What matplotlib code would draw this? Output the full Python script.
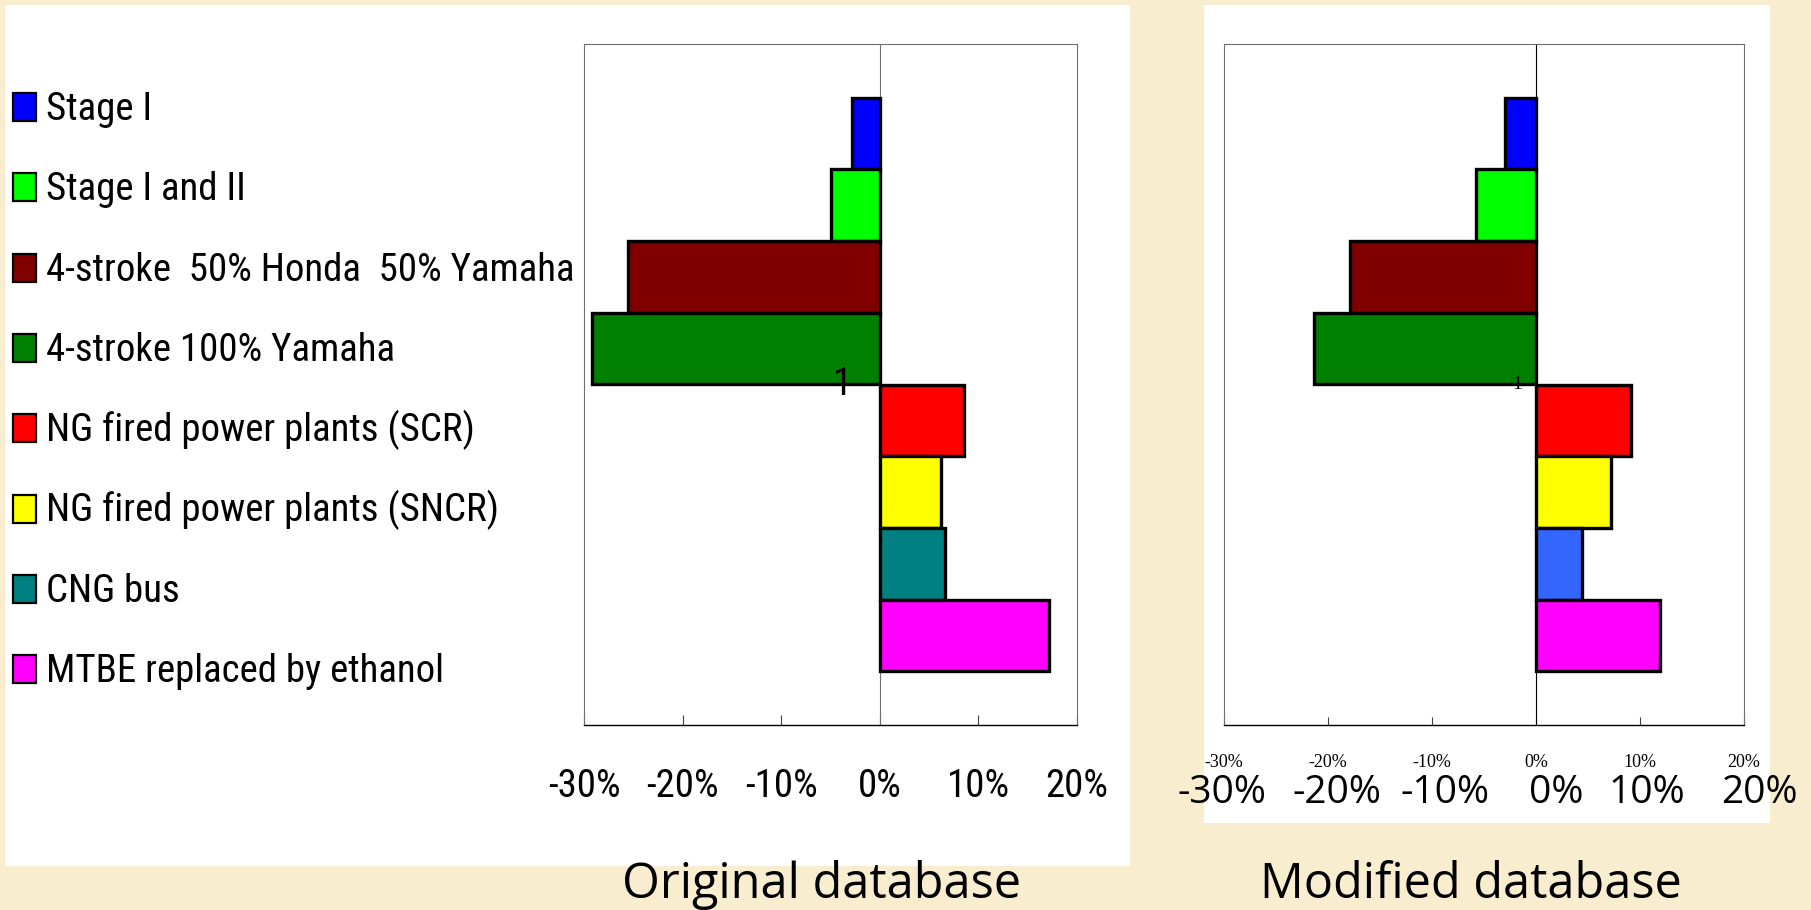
import matplotlib
matplotlib.use("Agg")
import matplotlib.pyplot as plt
from matplotlib import font_manager
from matplotlib.patches import Rectangle

W, H = 1811, 910

# scenarios, top to bottom
scenarios = ["Stage I", "Stage I and II", "4-stroke  50% Honda  50% Yamaha",
             "4-stroke 100% Yamaha", "NG fired power plants (SCR)",
             "NG fired power plants (SNCR)", "CNG bus", "MTBE replaced by ethanol"]
colors_orig = ["#0000FF", "#00FF00", "#800000", "#008000",
               "#FF0000", "#FFFF00", "#008080", "#FF00FF"]
colors_mod = ["#0000FF", "#00FF00", "#800000", "#008000",
              "#FF0000", "#FFFF00", "#3366FF", "#FF00FF"]

# change per scenario, %
original = [-2.8, -4.9, -25.5, -29.2, 8.5, 6.2, 6.6, 17.2]
modified = [-3.0, -5.8, -17.9, -21.3, 9.1, 7.2, 4.4, 11.9]

xticks = [-30, -20, -10, 0, 10, 20]
tick_labels = [f"{t}%" for t in xticks]
category = "1"
titles = ["Original database", "Modified database"]

SERIF = ["Liberation Serif", "DejaVu Serif"]
SLIDE = ["Open Sans", "Noto Sans", "DejaVu Sans"]


def narrow_font(size):
    # look for a condensed sans; fall back to a smaller regular one
    names = {f.name for f in font_manager.fontManager.ttflist}
    for n in ("Liberation Sans Narrow", "Arial Narrow", "Roboto Condensed",
              "Open Sans Condensed", "DejaVu Sans Condensed"):
        if n in names:
            return dict(fontfamily=n, fontsize=size)
    for f in font_manager.fontManager.ttflist:
        if f.name in ("DejaVu Sans", "Liberation Sans", "Noto Sans") and \
                str(f.stretch) in ("condensed", "semi-condensed") and f.style == "normal" \
                and f.weight in (400, "normal", "regular"):
            return dict(fontfamily=f.name, fontstretch=f.stretch, fontsize=size)
    return dict(fontfamily=["Liberation Sans", "DejaVu Sans"], fontsize=size * 0.8)


NARROW = narrow_font(28)


def fx(px):
    return px / W


def fy(py):
    return 1 - py / H


def box(x0, y0, x1, y1):
    return [fx(x0), fy(y1), (x1 - x0) / W, (y1 - y0) / H]


fig = plt.figure(figsize=(W / 100, H / 100), dpi=100)
fig.patch.set_facecolor("#F9EDD0")

# white chart backgrounds
for x0, y0, x1, y1 in [(5, 5, 1130, 866), (1204, 5, 1770, 823)]:
    fig.add_artist(Rectangle((fx(x0), fy(y1)), (x1 - x0) / W, (y1 - y0) / H,
                             transform=fig.transFigure, fc="white", ec="none", zorder=-5))


def panel(rect, values, colors, zero_color, label_kw, label_pad,
          cat_kw, cat_offset, tick_len):
    ax = fig.add_axes(box(*rect))
    n = len(values)
    pos = [i - (n - 1) / 2 for i in range(n)]
    ax.axvline(0, color=zero_color, lw=0.8, zorder=2)
    ax.barh(pos, values, height=1.0, color=colors, edgecolor="black",
            linewidth=2.4, zorder=3)
    ax.set_ylim(n / 2 + 0.75, -n / 2 - 0.75)
    ax.set_xlim(xticks[0], xticks[-1])
    ax.set_xticks(xticks)
    ax.set_xticklabels(tick_labels, **label_kw)
    ax.set_yticks([])
    ax.tick_params(axis="x", direction="in", length=tick_len, width=0.8,
                   color="#404040", pad=label_pad)
    for side in ["left", "top", "right"]:
        ax.spines[side].set_color("#707070")
        ax.spines[side].set_linewidth(0.8)
    ax.spines["bottom"].set_color("black")
    ax.spines["bottom"].set_linewidth(1.0)
    ax.annotate(category, xy=(0, 0), xytext=(cat_offset, 0), textcoords="offset points",
                ha="right", va="center", zorder=5, **cat_kw)
    return ax


panel((584, 44, 1077, 725), original, colors_orig, "#707070",
      NARROW, 31, NARROW, -20, 7.5)
panel((1224, 44, 1744, 725), modified, colors_mod, "black",
      dict(fontfamily=SERIF, fontsize=13), 21,
      dict(fontfamily=SERIF, fontsize=14), -10, 6)

# legend
for k, (name, c) in enumerate(zip(scenarios, colors_orig)):
    cy = 107 + k * 80.3
    fig.add_artist(Rectangle((fx(13), fy(cy + 14)), 23 / W, 28 / H, transform=fig.transFigure,
                             fc=c, ec="black", lw=1.6))
    fig.text(fx(46), fy(cy + 13), name, ha="left", va="baseline", **NARROW)

# larger axis labels laid over the second chart
for xc, lab in zip([1222, 1337, 1445, 1556, 1647, 1759], tick_labels):
    fig.text(fx(xc), fy(803), lab, fontfamily=SLIDE, fontsize=28,
             ha="center", va="baseline")

for xc, t in zip([822, 1471], titles):
    fig.text(fx(xc), fy(898), t, fontfamily=SLIDE, fontsize=35,
             ha="center", va="baseline")

fig.savefig("out.png", dpi=100, facecolor=fig.get_facecolor())
